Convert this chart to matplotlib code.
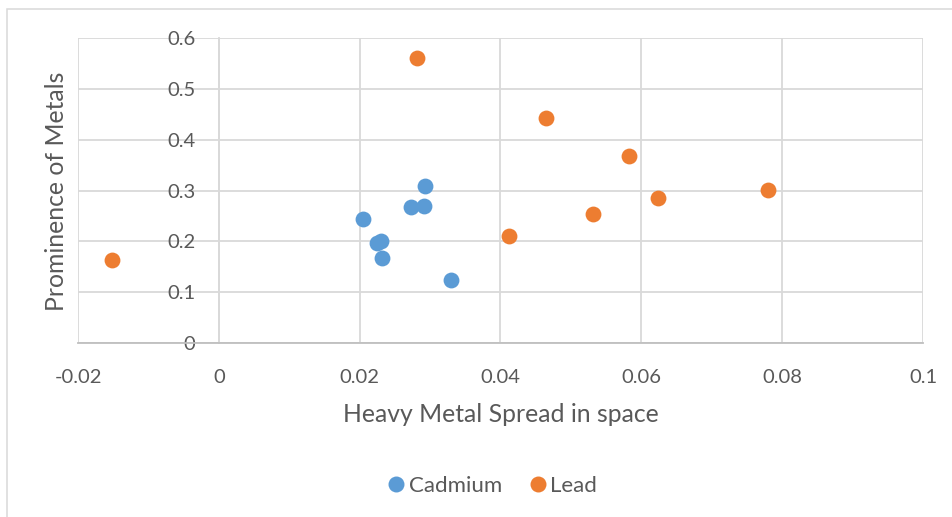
import matplotlib
matplotlib.use("Agg")
import matplotlib.pyplot as plt
from matplotlib.patches import Rectangle
from matplotlib.lines import Line2D

plt.rcParams['font.family'] = ['Lato', 'DejaVu Sans']

# Spread of each metal in space vs. its prominence
cadmium_x = [0.0293, 0.0273, 0.0291, 0.0205, 0.0225, 0.0230, 0.0232, 0.0330]
cadmium_y = [0.310, 0.268, 0.270, 0.244, 0.196, 0.200, 0.167, 0.125]

lead_x = [-0.0152, 0.0281, 0.0464, 0.0412, 0.0583, 0.0624, 0.0780, 0.0531]
lead_y = [0.164, 0.562, 0.443, 0.210, 0.369, 0.286, 0.302, 0.255]

x_ticks = [-0.02, 0, 0.02, 0.04, 0.06, 0.08, 0.1]
x_tick_labels = ["-0.02", "0", "0.02", "0.04", "0.06", "0.08", "0.1"]
y_ticks = [0, 0.1, 0.2, 0.3, 0.4, 0.5, 0.6]
y_tick_labels = ["0", "0.1", "0.2", "0.3", "0.4", "0.5", "0.6"]

BLUE = "#5B9BD5"
ORANGE = "#ED7D31"
GRID = "#D9D9D9"
TEXT = "#595959"

W, H = 953, 517
fig = plt.figure(figsize=(W / 100, H / 100), dpi=100)

# chart-area border
fig.patches.append(Rectangle((7 / W, -0.05), 1.2, 1 - 9 / H + 0.05,
                             transform=fig.transFigure, fill=False,
                             edgecolor=GRID, linewidth=1.1, zorder=0))

ax = fig.add_axes([78 / W, 1 - 343 / H, (923 - 78) / W, (343 - 38.3) / H])
ax.set_xlim(-0.02, 0.1)
ax.set_ylim(0, 0.6)

ax.set_xticks(x_ticks)
ax.set_xticklabels(x_tick_labels)
ax.set_yticks(y_ticks)
ax.set_yticklabels(y_tick_labels)

ax.grid(True, color=GRID, linewidth=1.3, zorder=0)
ax.set_axisbelow(True)

for s in ["top", "right"]:
    ax.spines[s].set_visible(False)
ax.spines["left"].set_position(("data", 0))
ax.spines["left"].set_color(GRID)
ax.spines["left"].set_linewidth(1.3)
ax.spines["bottom"].set_color("#BFBFBF")
ax.spines["bottom"].set_linewidth(1.3)

ax.tick_params(axis="both", length=0, labelsize=14.5, colors=TEXT)
ax.tick_params(axis="x", pad=19)
ax.tick_params(axis="y", pad=17)

ax.scatter(cadmium_x, cadmium_y, s=130, color=BLUE, linewidths=0, zorder=3)
ax.scatter(lead_x, lead_y, s=130, color=ORANGE, linewidths=0, zorder=3)

ax.set_xlabel("Heavy Metal Spread in space", fontsize=17.8, color=TEXT, labelpad=12)
fig.text(57 / W, 1 - 191 / H, "Prominence of Metals", fontsize=17.8, color=TEXT,
         rotation=90, ha="center", va="center")

handles = [Line2D([], [], marker="o", linestyle="", markersize=11.5,
                  markerfacecolor=BLUE, markeredgewidth=0, label="Cadmium"),
           Line2D([], [], marker="o", linestyle="", markersize=11.5,
                  markerfacecolor=ORANGE, markeredgewidth=0, label="Lead")]
fig.legend(handles=handles, loc="center", bbox_to_anchor=(491 / W, 1 - 486 / H),
           ncol=2, frameon=False, fontsize=16, labelcolor=TEXT,
           handletextpad=0.05, columnspacing=1.1, handlelength=1.0)

fig.savefig("out.png", dpi=100)
